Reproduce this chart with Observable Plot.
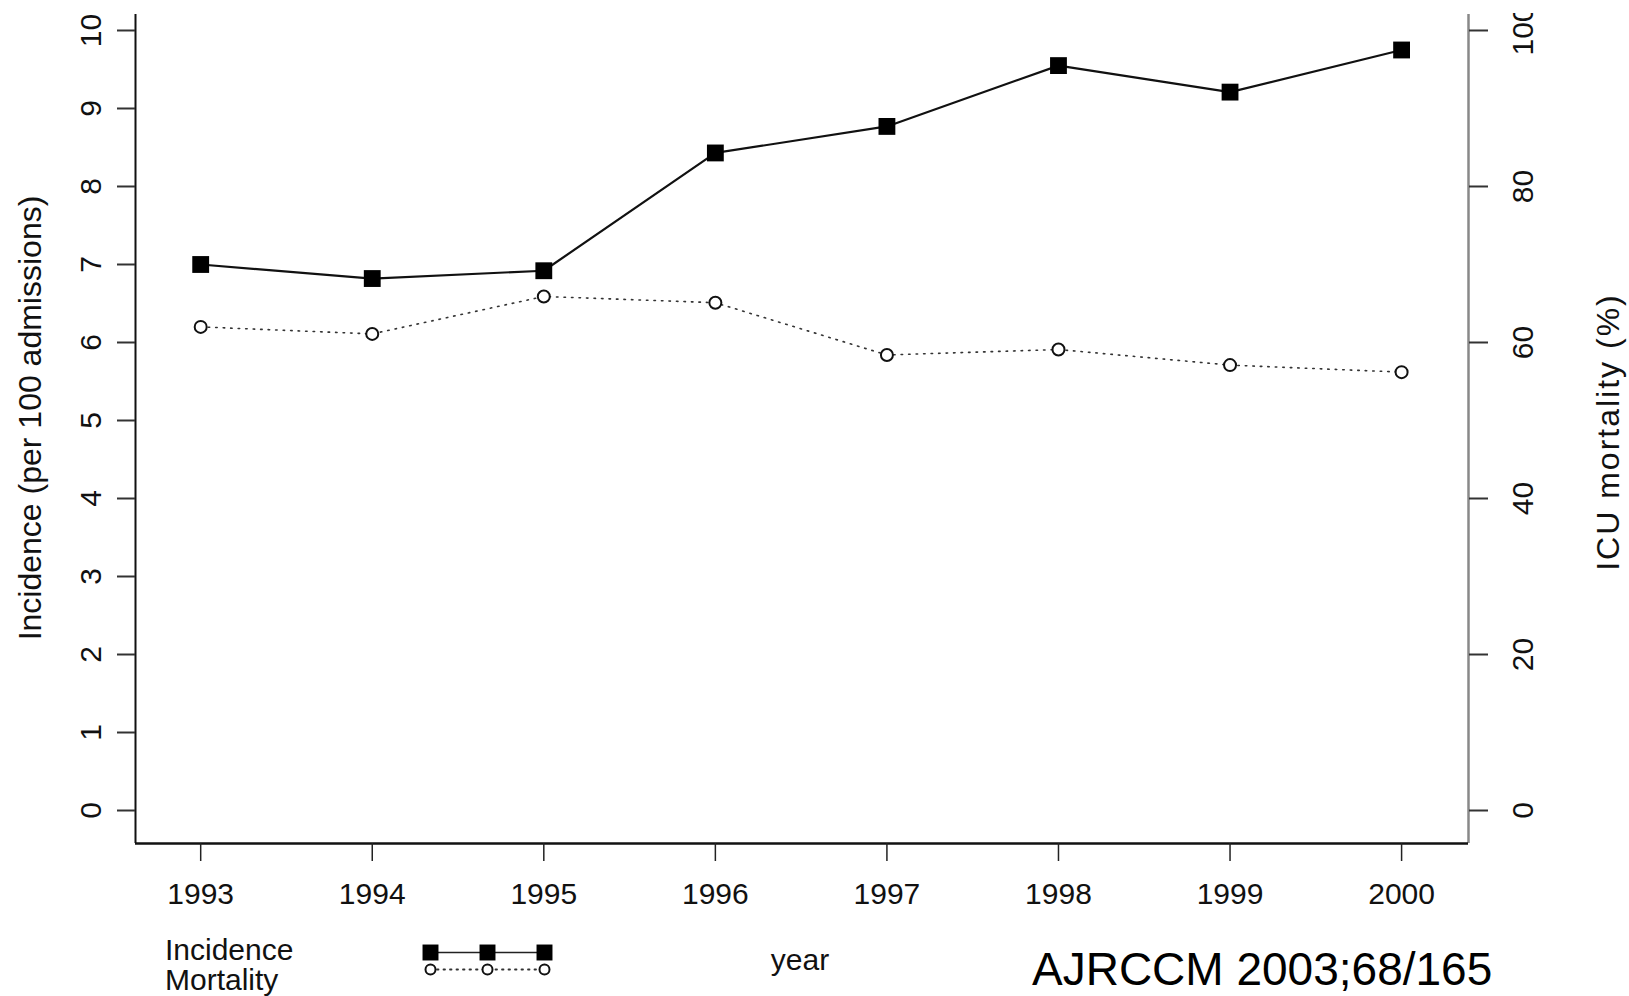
<!DOCTYPE html>
<html><head><meta charset="utf-8">
<script src="https://cdn.jsdelivr.net/npm/d3@7"></script>
<script src="https://cdn.jsdelivr.net/npm/@observablehq/plot@0.6"></script>
<style>
body{margin:0;background:#fff;}
#wrap{position:relative;width:1629px;height:996px;overflow:hidden;font-family:"Liberation Sans",Arial,Helvetica,sans-serif;color:#111;background:#fff;}
#chart svg{display:block;clip-path:inset(13px 0 0 0);}
.abs{position:absolute;white-space:nowrap;}
</style></head><body>
<div id="wrap">
  <div id="chart"></div>
  <div id="legendText" class="abs" style="left:165px;top:935px;font-size:30px;line-height:30px;"></div>
  <div id="legendKey" class="abs" style="left:415px;top:930px;"></div>
  <div id="xTitle" class="abs" style="left:800px;top:945px;font-size:30px;line-height:30px;transform:translateX(-50%);"></div>
  <div id="source" class="abs" style="left:1032px;top:946px;font-size:46px;line-height:46px;color:#000;"></div>
</div>
<script>
// ---- data ----
const years = [1993, 1994, 1995, 1996, 1997, 1998, 1999, 2000];
const incidence = [7.0, 6.82, 6.92, 8.43, 8.77, 9.55, 9.21, 9.75];   // per 100 admissions
const mortality = [62.0, 61.1, 65.9, 65.1, 58.4, 59.1, 57.1, 56.2];  // ICU mortality %
const leftTicks = [0, 1, 2, 3, 4, 5, 6, 7, 8, 9, 10];
const rightTicks = [0, 20, 40, 60, 80, 100];
const seriesNames = ["Incidence", "Mortality"];
const legendKeys = [0, 1, 2];
const leftTitle = "Incidence (per 100 admissions)";
const rightTitle = "ICU mortality (%)";
const xTitle = "year";
const sourceText = "AJRCCM 2003;68/165";
const rightPerLeft = 10; // right-axis % per left-axis unit

// scale configuration
const xDomain = [1992.62, 2000.39];
const yDomain = [-0.423, 10.205];

const rows = years.map((y, i) => ({year: y, incidence: incidence[i], mortality: mortality[i]}));
const font = '"Liberation Sans", Arial, Helvetica, sans-serif';

const chart = Plot.plot({
  width: 1629, height: 915,
  marginLeft: 135, marginRight: 161, marginTop: 14, marginBottom: 72,
  x: {domain: xDomain},
  y: {domain: yDomain},
  style: {fontFamily: font, fontSize: "30px", color: "#111", background: "white"},
  marks: [
    Plot.ruleX([xDomain[0]], {stroke: "#111", strokeWidth: 2}),
    Plot.ruleX([xDomain[1]], {stroke: "#888", strokeWidth: 2.5}),
    Plot.ruleY([yDomain[0]], {stroke: "#111", strokeWidth: 2.5}),
    Plot.axisX({ticks: years, tickFormat: d => String(d), tickSize: 18, tickPadding: 21, label: null, fontSize: 30, stroke: "#222", strokeWidth: 1.5}),
    Plot.axisY({anchor: "left", ticks: leftTicks, tickFormat: d => String(d), tickSize: 18, tickPadding: 17, tickRotate: -90, label: null, fontSize: 30, stroke: "#333", strokeWidth: 2}),
    Plot.axisY({anchor: "right", ticks: rightTicks.map(d => d / rightPerLeft), tickFormat: d => String(Math.round(d * rightPerLeft)), tickSize: 19, tickPadding: 45, tickRotate: -90, label: null, fontSize: 30, stroke: "#333", strokeWidth: 2}),
    Plot.text([leftTitle], {text: d => d, frameAnchor: "left", rotate: -90, textAnchor: "middle", lineAnchor: "bottom", dx: -95, dy: -11, fontSize: 32, fill: "#111"}),
    Plot.text([rightTitle], {text: d => d, frameAnchor: "right", rotate: -90, textAnchor: "middle", lineAnchor: "bottom", dx: 150, dy: 3, fontSize: 32, fill: "#111"}),
    Plot.line(rows, {x: "year", y: d => d.mortality / rightPerLeft, stroke: "#333", strokeWidth: 1.6, strokeDasharray: "1.5,6"}),
    Plot.line(rows, {x: "year", y: "incidence", stroke: "#111", strokeWidth: 2.2}),
    Plot.dot(rows, {x: "year", y: d => d.mortality / rightPerLeft, r: 6, stroke: "#111", strokeWidth: 2, fill: "white"}),
    Plot.dot(rows, {x: "year", y: "incidence", symbol: "square", r: 9.5, fill: "#000", stroke: "none"})
  ]
});
document.getElementById("chart").append(chart);
// the original rendering spaces the right-hand title out a little
for (const t of chart.querySelectorAll("text")) {
  if (t.textContent === rightTitle) t.style.letterSpacing = "2px";
}

// legend key drawn with Plot
const legendData = seriesNames.flatMap(s => legendKeys.map(k => ({series: s, k})));
const legend = Plot.plot({
  width: 150, height: 60, margin: 0,
  x: {domain: [0, 2], range: [15, 129], axis: null},
  y: {domain: seriesNames, type: "point", range: [13, 47], axis: null},
  style: {background: "transparent"},
  marks: [
    Plot.line(legendData.filter(d => d.series === "Incidence"), {x: "k", y: "series", stroke: "#222", strokeWidth: 1.5}),
    Plot.line(legendData.filter(d => d.series === "Mortality"), {x: "k", y: "series", stroke: "#333", strokeWidth: 1.8, strokeDasharray: "1.5,5"}),
    Plot.dot(legendData.filter(d => d.series === "Incidence"), {x: "k", y: "series", symbol: "square", r: 9, fill: "#000"}),
    Plot.dot(legendData.filter(d => d.series === "Mortality"), {x: "k", y: "series", r: 5, stroke: "#111", strokeWidth: 2, fill: "white"})
  ]
});
document.getElementById("legendKey").append(legend);
document.getElementById("legendText").innerHTML = seriesNames.join("<br>");
document.getElementById("xTitle").textContent = xTitle;
document.getElementById("source").textContent = sourceText;
</script>
</body></html>
